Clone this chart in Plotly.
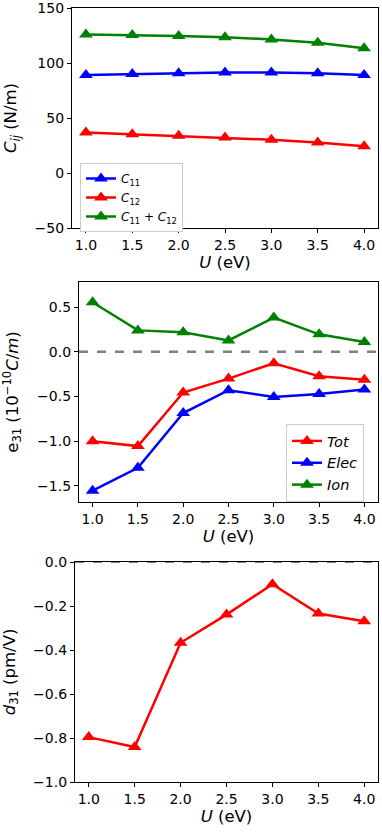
import plotly.graph_objects as go

U = [1.0, 1.5, 2.0, 2.5, 3.0, 3.5, 4.0]

# elastic constants (N/m)
c11 = [89.2, 90.1, 90.7, 91.3, 91.3, 90.7, 89.2]
c12 = [36.8, 35.3, 33.8, 32.3, 30.2, 27.8, 24.3]
c11_c12 = [126.0, 125.4, 124.5, 123.5, 121.4, 118.4, 113.4]

# piezoelectric e31 (1e-10 C/m)
e31_tot = [-1.00, -1.055, -0.456, -0.300, -0.128, -0.274, -0.312]
e31_elec = [-1.553, -1.298, -0.685, -0.430, -0.505, -0.471, -0.423]
e31_ion = [0.554, 0.239, 0.217, 0.127, 0.382, 0.195, 0.108]

# piezoelectric d31 (pm/V)
d31 = [-0.796, -0.841, -0.367, -0.239, -0.101, -0.234, -0.269]

x_ticks = [1.0, 1.5, 2.0, 2.5, 3.0, 3.5, 4.0]

W, H = 382, 835
BLUE, RED, GREEN = "#0000ff", "#ff0000", "#008000"
FONT = "DejaVu Sans"


def px_x(a, b):
    return [a / W, b / W]


def px_y(top, bottom):
    return [1 - bottom / H, 1 - top / H]


def tri(x, y, color, name, xa, ya, legend=None, show=True):
    return go.Scatter(
        x=x, y=y, mode="lines+markers", name=name,
        line=dict(color=color, width=2.5),
        marker=dict(symbol="triangle-up", size=12, color=color),
        xaxis=xa, yaxis=ya, legend=legend, showlegend=show,
    )


fig = go.Figure()

fig.add_trace(tri(U, c11, BLUE, "<i>C</i><sub>11</sub>", "x", "y", "legend"))
fig.add_trace(tri(U, c12, RED, "<i>C</i><sub>12</sub>", "x", "y", "legend"))
fig.add_trace(tri(U, c11_c12, GREEN, "<i>C</i><sub>11</sub> + <i>C</i><sub>12</sub>", "x", "y", "legend"))

fig.add_trace(tri(U, e31_tot, RED, "<i>Tot</i>", "x2", "y2", "legend2"))
fig.add_trace(tri(U, e31_elec, BLUE, "<i>Elec</i>", "x2", "y2", "legend2"))
fig.add_trace(tri(U, e31_ion, GREEN, "<i>Ion</i>", "x2", "y2", "legend2"))

fig.add_trace(tri(U, d31, RED, "d31", "x3", "y3", show=False))

fig.add_shape(type="line", xref="x2 domain", yref="y2", x0=0, x1=1, y0=0, y1=0,
              line=dict(color="gray", width=2.5, dash="dash"), layer="below")
fig.add_shape(type="line", xref="x3 domain", yref="y3", x0=0, x1=1, y0=0, y1=0,
              line=dict(color="black", width=1, dash="dash"))

axis_common = dict(
    showgrid=False, zeroline=False, showline=True, mirror=True,
    linecolor="black", linewidth=1.2, ticks="outside", ticklen=4,
    tickcolor="black", tickfont=dict(size=14, color="black", family=FONT),
    automargin=False, ticklabeloverflow="allow",
)
x_common = dict(axis_common, range=[0.85, 4.15], tickvals=x_ticks,
                ticktext=[f"{v:.1f}" for v in x_ticks],
                title=dict(text="<i>U</i> (eV)", font=dict(size=16.5, color="black"), standoff=4))

fig.update_layout(
    width=W, height=H,
    margin=dict(l=0, r=0, t=0, b=0),
    paper_bgcolor="white", plot_bgcolor="white",
    font=dict(family=FONT, color="black"),
    xaxis=dict(x_common, domain=px_x(72, 378), anchor="y"),
    yaxis=dict(axis_common, domain=px_y(8, 228), anchor="x", range=[-50, 150],
               tickvals=[-50, 0, 50, 100, 150],
               title=dict(text="<i>C</i><sub><i>ij</i></sub> (N/m)", font=dict(size=16.5), standoff=13)),
    xaxis2=dict(x_common, domain=px_x(79, 378), anchor="y2"),
    yaxis2=dict(axis_common, domain=px_y(282, 502), anchor="x2", range=[-1.68, 0.78],
                tickvals=[-1.5, -1.0, -0.5, 0.0, 0.5], ticktext=["−1.5", "−1.0", "−0.5", "0.0", "0.5"],
                title=dict(text="e<sub>31</sub> (10<sup>−10</sup><i>C</i>/<i>m</i>)", font=dict(size=16.5), standoff=15)),
    xaxis3=dict(x_common, domain=px_x(75, 378), anchor="y3"),
    yaxis3=dict(axis_common, domain=px_y(562, 782), anchor="x3", range=[-1.0, 0.0],
                tickvals=[-1.0, -0.8, -0.6, -0.4, -0.2, 0.0],
                ticktext=["−1.0", "−0.8", "−0.6", "−0.4", "−0.2", "0.0"],
                title=dict(text="<i>d</i><sub>31</sub> (pm/V)", font=dict(size=16.5), standoff=15)),
    legend=dict(x=80 / W, y=1 - 163 / H, xanchor="left", yanchor="top",
                bgcolor="white", bordercolor="#cccccc", borderwidth=1,
                font=dict(size=12, family=FONT), tracegroupgap=0, itemwidth=30),
    legend2=dict(x=286 / W, y=1 - 424 / H, xanchor="left", yanchor="top",
                 bgcolor="white", bordercolor="#cccccc", borderwidth=1,
                 font=dict(size=14.5, family=FONT), tracegroupgap=0, itemwidth=30),
)

# the page body has a default 8px margin; drop it so the figure fills the window
fig.write_html("out.html", config={"displayModeBar": False},
               post_script="document.body.style.margin='0px';")
